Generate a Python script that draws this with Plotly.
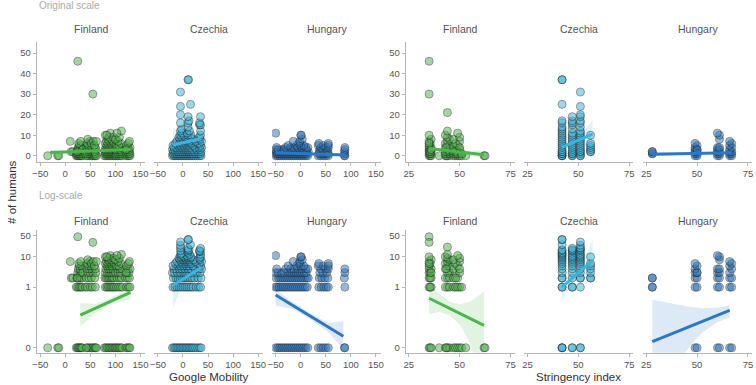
import plotly.graph_objects as go

W, H = 756, 385
FONT = "Liberation Sans, Arial, sans-serif"

countries = ["Finland", "Czechia", "Hungary"]
colors = {"Finland": "#4cb64a", "Czechia": "#38b6de", "Hungary": "#2b78c4"}

mob_ticks = [-50, 0, 50, 100, 150]
str_ticks = [25, 50, 75]
lin_ticks = [0, 10, 20, 30, 40, 50]
log_tickvals = [0.01, 1, 10, 50]
log_ticktext = ["0", "1", "10", "50"]
zero_pos = 0.01  # position where 0 is drawn on the log scale

# ---------------- Finland : Google mobility ----------------
fin_mob_x = [-35, -15, -13, 10, 12, 15,
             25, 22, 24, 26, 28, 30, 32, 34, 22, 25, 28, 31, 34, 23, 27, 30, 33, 25, 29, 32, 26, 30, 28, 33, 27, 31, 24, 35,
             45, 48, 52, 55, 42, 40, 44, 50, 54, 42, 47, 52, 45, 50, 55, 43, 48, 53, 46, 51, 44, 49, 45, 55, 52, 56,
             58, 60, 62, 60, 59, 61, 60, 58, 62,
             78, 81, 84, 87, 90, 93, 96, 99, 80, 83, 86, 89, 92, 95, 98, 79, 82, 85, 88, 91, 94, 97, 80, 84, 88, 92, 96,
             81, 86, 90, 95, 83, 88, 93, 80, 85, 91, 97, 82, 88, 94, 85, 92, 80, 87, 90, 96, 83,
             101, 104, 107, 110, 113, 102, 106, 110, 114, 103, 108, 112, 100, 105, 110, 104, 109, 113, 102, 107, 111, 105,
             100, 108, 112, 103,
             121, 124, 127, 129, 122, 126, 129, 120, 124, 128, 123, 127, 125, 129, 122, 126, 128, 121]
fin_mob_y = [0, 0, 0, 7, 2, 2,
             46, 0, 0, 0, 0, 0, 0, 0, 1, 1, 1, 1, 1, 2, 2, 2, 2, 3, 3, 3, 4, 4, 5, 5, 6, 7, 2, 3,
             0, 0, 0, 0, 0, 1, 1, 1, 1, 2, 2, 2, 3, 3, 3, 4, 4, 4, 5, 5, 6, 7, 8, 30, 6, 7,
             0, 0, 0, 1, 2, 3, 4, 5, 7,
             0, 0, 0, 0, 0, 0, 0, 0, 1, 1, 1, 1, 1, 1, 1, 2, 2, 2, 2, 2, 2, 2, 3, 3, 3, 3, 3,
             4, 4, 4, 4, 5, 5, 5, 6, 6, 6, 6, 7, 7, 7, 8, 8, 10, 9, 11, 9, 10,
             0, 0, 0, 0, 0, 1, 1, 1, 1, 2, 2, 2, 3, 3, 3, 4, 4, 4, 5, 5, 6, 7,
             8, 9, 12, 11,
             0, 0, 0, 0, 1, 1, 1, 2, 2, 2, 3, 3, 4, 4, 5, 6, 7, 3]

# ---------------- Finland : stringency ----------------
fin_str_x = [35, 35, 35, 35.5, 36, 35, 36, 35.5, 35, 36, 35, 35.5, 35, 36, 35, 35.5, 35, 36, 35, 35.5, 36, 35,
             40,
             43, 44, 45, 43.5, 44, 43, 45, 44, 43, 45, 44, 43, 44, 45, 43, 44, 45, 44, 43, 44, 44, 45, 43.5,
             47, 48, 49, 50, 47, 48, 50, 47, 49, 48, 50, 47, 49, 48, 50, 47, 50, 49, 48, 50, 49,
             51, 53, 51,
             62, 62.5]
fin_str_y = [46, 30, 0, 0, 0, 1, 1, 1, 2, 2, 3, 3, 4, 4, 5, 6, 7, 8, 10, 2, 3, 6,
             0,
             0, 0, 0, 0, 1, 1, 1, 2, 2, 3, 3, 4, 5, 5, 6, 7, 8, 9, 10, 12, 21, 2, 4,
             0, 0, 0, 0, 1, 1, 1, 2, 2, 3, 3, 4, 5, 6, 7, 8, 9, 11, 2, 4, 1,
             0, 0, 1,
             0, 0]

# ---------------- Czechia : Google mobility ----------------
cze_mob_x = [-21, -18, -15, -12, -9, -6, -3, 0, 3, 6, 9, 12, 15, 18, 21, 25, 29, 33, 36,
             -20, -16, -12, -8, -4, 0, 4, 8, 12, 16, 20, 26, 31, 35,
             -19, -14, -10, -6, -2, 2, 6, 10, 14, 18, 23, 30, 36,
             -21, -17, -11, -5, 1, 5, 9, 13, 19, 27, 34,
             -18, -13, -7, -2, 4, 10, 15, 24, 32, 37,
             -20, -10, -5, 1, 7, 12, 20, 35,
             -15, -8, -1, 5, 11, 16, 29, 33,
             -12, -4, 3, 8, 13, 25, 37,
             -6, 0, 6, 12, 21, 34,
             -8, -3, 4, 9, 15, 33,
             -5, 1, 10, 16, 35,
             -2, 8, 13, -5, 35,
             -3, 10, 33, 35, -5, 10, 33, 12, 10, 35, -5, -5, 15, -5, 10, 11]
cze_mob_y = [0, 0, 0, 0, 0, 0, 0, 0, 0, 0, 0, 0, 0, 0, 0, 0, 0, 0, 0,
             1, 1, 1, 1, 1, 1, 1, 1, 1, 1, 1, 1, 1, 1,
             2, 2, 2, 2, 2, 2, 2, 2, 2, 2, 2, 2, 2,
             3, 3, 3, 3, 3, 3, 3, 3, 3, 3, 3,
             4, 4, 4, 4, 4, 4, 4, 4, 4, 4,
             5, 5, 5, 5, 5, 5, 5, 5,
             6, 6, 6, 6, 6, 6, 6, 6,
             7, 7, 7, 7, 7, 7, 7,
             8, 8, 8, 8, 8, 8,
             9, 9, 9, 9, 9, 9,
             10, 10, 10, 10, 10,
             11, 11, 12, 12, 12,
             13, 14, 15, 15, 16, 16, 16, 17, 19, 19, 20, 24, 25, 31, 37, 37]

# ---------------- Czechia : stringency ----------------
cze_str_x = [42] * 24 + [47] * 19 + [51] * 22 + [56] * 7
cze_str_y = [0, 0, 0, 1, 1, 2, 2, 3, 4, 5, 6, 7, 8, 9, 10, 11, 12, 13, 14, 16, 17, 25, 37, 37,
             0, 0, 1, 1, 2, 3, 4, 5, 6, 7, 8, 9, 10, 11, 13, 15, 16, 17, 19,
             0, 0, 1, 2, 2, 3, 4, 5, 6, 7, 8, 9, 10, 11, 12, 14, 16, 17, 19, 20, 24, 31,
             2, 2, 3, 4, 5, 6, 10]

# ---------------- Hungary : Google mobility ----------------
hun_mob_x = [-50, -46, -42, -38, -34, -30, -26, -22, -18, -14, -10, -6, -2, 2, 6, 10, 14, 35, 40, 45, 50, 55, 87, 88,
             -50, -47, -43, -39, -35, -31, -27, -23, -19, -15, -11, -7, -3, 1, 5, 9, 13, 36, 41, 46, 51, 55, 88,
             -49, -44, -40, -36, -32, -28, -24, -20, -16, -12, -8, -4, 0, 4, 8, 12, 15, 37, 42, 48, 54, 87,
             -50, -45, -38, -33, -26, -21, -17, -13, -9, -5, -1, 3, 7, 11, 38, 44, 52, 88,
             -48, -30, -20, -14, -6, 2, 10, 14, 40, 50, 55, 88,
             -25, -8, 0, 6, 35, 45, 55,
             -3, 36, 55, -15, -2, 3, 0, 1, -50]
hun_mob_y = [0] * 24 + [1] * 23 + [2] * 22 + [3] * 18 + [4] * 12 + [5] * 7 + \
            [6, 6, 6, 7, 7, 8, 10, 10, 11]

# ---------------- Hungary : stringency ----------------
hun_str_x = [28, 28, 28, 28,
             49, 50, 49, 50, 49, 50, 49, 50, 49, 50, 49, 50,
             60, 61, 60, 61, 60, 61, 60, 61, 60, 61, 61, 61, 60,
             66, 67, 66, 67, 66, 67, 66, 67, 66, 67, 66]
hun_str_y = [1, 1, 2, 2,
             0, 0, 1, 1, 2, 2, 3, 3, 4, 5, 6, 3,
             0, 0, 1, 1, 2, 2, 3, 3, 4, 4, 8, 10, 11,
             0, 0, 1, 1, 2, 2, 3, 4, 5, 6, 7]

# ---------------- fitted lines and confidence bands ----------------
# original scale
fit_lin_fin_mob_x, fit_lin_fin_mob_y = [-30, 130], [1.6, 3.0]
band_lin_fin_mob_x, band_lin_fin_mob_lo, band_lin_fin_mob_hi = [-30, 50, 130], [0.4, 1.8, 2.0], [2.8, 2.6, 4.0]
fit_lin_cze_mob_x, fit_lin_cze_mob_y = [-20, 35], [5.2, 8.3]
band_lin_cze_mob_x, band_lin_cze_mob_lo, band_lin_cze_mob_hi = [-20, 8, 35], [1.0, 5.6, 5.8], [14.0, 7.9, 11.0]
fit_lin_hun_mob_x, fit_lin_hun_mob_y = [-50, 88], [1.5, 0.4]
band_lin_hun_mob_x, band_lin_hun_mob_lo, band_lin_hun_mob_hi = [-50, 20, 88], [0.8, 0.8, -0.1], [2.2, 1.2, 0.9]
fit_lin_fin_str_x, fit_lin_fin_str_y = [35, 62], [3.5, 0.5]
band_lin_fin_str_x, band_lin_fin_str_lo, band_lin_fin_str_hi = [35, 45, 62], [2.8, 1.9, -1.5], [4.2, 2.7, 2.5]
fit_lin_cze_str_x, fit_lin_cze_str_y = [42, 57], [4.2, 10.5]
band_lin_cze_str_x, band_lin_cze_str_lo, band_lin_cze_str_hi = [42, 48, 57], [2.5, 5.5, 4.0], [6.0, 8.0, 17.0]
fit_lin_hun_str_x, fit_lin_hun_str_y = [28, 67], [0.7, 1.5]
band_lin_hun_str_x, band_lin_hun_str_lo, band_lin_hun_str_hi = [28, 55, 67], [-0.3, 0.9, 1.0], [1.7, 1.5, 2.0]
# log scale
fit_log_fin_mob_x, fit_log_fin_mob_y = [30, 130], [0.12, 0.67]
band_log_fin_mob_x = [30, 60, 90, 130]
band_log_fin_mob_lo = [0.05, 0.14, 0.26, 0.40]
band_log_fin_mob_hi = [0.30, 0.28, 0.44, 0.95]
fit_log_cze_mob_x, fit_log_cze_mob_y = [-20, 36], [1.13, 4.4]
band_log_cze_mob_x = [-20, -5, 10, 25, 36]
band_log_cze_mob_lo = [0.2, 0.85, 1.9, 1.9, 0.65]
band_log_cze_mob_hi = [6.0, 3.2, 2.9, 6.0, 30.0]
fit_log_hun_mob_x, fit_log_hun_mob_y = [-50, 85], [0.55, 0.024]
band_log_hun_mob_x = [-50, -15, 20, 55, 85]
band_log_hun_mob_lo = [0.25, 0.19, 0.085, 0.033, 0.009]
band_log_hun_mob_hi = [0.85, 0.31, 0.135, 0.065, 0.075]
fit_log_fin_str_x, fit_log_fin_str_y = [35, 62], [0.43, 0.055]
band_log_fin_str_x = [35, 40, 45, 50, 55, 62]
band_log_fin_str_lo = [0.13, 0.15, 0.12, 0.06, 0.015, 0.0005]
band_log_fin_str_hi = [1.3, 0.6, 0.33, 0.27, 0.33, 0.7]
fit_log_cze_str_x, fit_log_cze_str_y = [42, 57], [1.0, 7.6]
band_log_cze_str_x = [42, 45, 48, 52, 57]
band_log_cze_str_lo = [0.33, 0.9, 1.7, 2.6, 2.0]
band_log_cze_str_hi = [3.0, 2.4, 3.0, 6.0, 38.0]
fit_log_hun_str_x, fit_log_hun_str_y = [28, 66], [0.016, 0.17]
band_log_hun_str_x = [28, 36, 44, 52, 60, 66]
band_log_hun_str_lo = [0.00005, 0.001, 0.007, 0.03, 0.07, 0.1]
band_log_hun_str_hi = [0.38, 0.3, 0.24, 0.2, 0.21, 0.25]

data = {
    ("Finland", "mob"): (fin_mob_x, fin_mob_y),
    ("Czechia", "mob"): (cze_mob_x, cze_mob_y),
    ("Hungary", "mob"): (hun_mob_x, hun_mob_y),
    ("Finland", "str"): (fin_str_x, fin_str_y),
    ("Czechia", "str"): (cze_str_x, cze_str_y),
    ("Hungary", "str"): (hun_str_x, hun_str_y),
}
fits = {
    ("lin", "Finland", "mob"): (fit_lin_fin_mob_x, fit_lin_fin_mob_y, band_lin_fin_mob_x, band_lin_fin_mob_lo, band_lin_fin_mob_hi),
    ("lin", "Czechia", "mob"): (fit_lin_cze_mob_x, fit_lin_cze_mob_y, band_lin_cze_mob_x, band_lin_cze_mob_lo, band_lin_cze_mob_hi),
    ("lin", "Hungary", "mob"): (fit_lin_hun_mob_x, fit_lin_hun_mob_y, band_lin_hun_mob_x, band_lin_hun_mob_lo, band_lin_hun_mob_hi),
    ("lin", "Finland", "str"): (fit_lin_fin_str_x, fit_lin_fin_str_y, band_lin_fin_str_x, band_lin_fin_str_lo, band_lin_fin_str_hi),
    ("lin", "Czechia", "str"): (fit_lin_cze_str_x, fit_lin_cze_str_y, band_lin_cze_str_x, band_lin_cze_str_lo, band_lin_cze_str_hi),
    ("lin", "Hungary", "str"): (fit_lin_hun_str_x, fit_lin_hun_str_y, band_lin_hun_str_x, band_lin_hun_str_lo, band_lin_hun_str_hi),
    ("log", "Finland", "mob"): (fit_log_fin_mob_x, fit_log_fin_mob_y, band_log_fin_mob_x, band_log_fin_mob_lo, band_log_fin_mob_hi),
    ("log", "Czechia", "mob"): (fit_log_cze_mob_x, fit_log_cze_mob_y, band_log_cze_mob_x, band_log_cze_mob_lo, band_log_cze_mob_hi),
    ("log", "Hungary", "mob"): (fit_log_hun_mob_x, fit_log_hun_mob_y, band_log_hun_mob_x, band_log_hun_mob_lo, band_log_hun_mob_hi),
    ("log", "Finland", "str"): (fit_log_fin_str_x, fit_log_fin_str_y, band_log_fin_str_x, band_log_fin_str_lo, band_log_fin_str_hi),
    ("log", "Czechia", "str"): (fit_log_cze_str_x, fit_log_cze_str_y, band_log_cze_str_x, band_log_cze_str_lo, band_log_cze_str_hi),
    ("log", "Hungary", "str"): (fit_log_hun_str_x, fit_log_hun_str_y, band_log_hun_str_x, band_log_hun_str_lo, band_log_hun_str_hi),
}

# ---------------- layout geometry (pixels) ----------------
col_px = {"mob": [(32, 142), (151, 261), (270, 380)],
          "str": [(405, 515), (525, 635), (645, 755)]}
row_px = {"lin": (41.7, 161.7), "log": (230, 352.7)}
x_range = {"mob": [-57, 160], "str": [23.5, 77]}
y_range = {"lin": [-2.9, 55.5], "log": [-2.163, 1.885]}


def rgba(hexc, a):
    h = hexc.lstrip("#")
    r, g, b = int(h[0:2], 16), int(h[2:4], 16), int(h[4:6], 16)
    return f"rgba({r},{g},{b},{a})"


fig = go.Figure()
layout = {}
AX_COL = "#b5b5b5"
TICK_FONT = dict(family=FONT, size=9.5, color="#555555")

idx = 0
for row in ["lin", "log"]:
    for var in ["mob", "str"]:
        for ci, country in enumerate(countries):
            idx += 1
            xa = "x" if idx == 1 else f"x{idx}"
            ya = "y" if idx == 1 else f"y{idx}"
            xk = "xaxis" if idx == 1 else f"xaxis{idx}"
            yk = "yaxis" if idx == 1 else f"yaxis{idx}"
            x0, x1 = col_px[var][ci]
            t0, t1 = row_px[row]
            col = colors[country]
            xs, ys = data[(country, var)]
            if row == "log":
                ys_plot = [v if v > 0 else zero_pos for v in ys]
            else:
                ys_plot = ys
            fx, fy, bx, blo, bhi = fits[(row, country, var)]
            # band
            fig.add_trace(go.Scatter(x=bx + bx[::-1], y=bhi + blo[::-1], xaxis=xa, yaxis=ya,
                                     mode="lines", fill="toself", fillcolor=rgba(col, 0.16),
                                     line=dict(width=0), hoverinfo="skip"))
            # points
            fig.add_trace(go.Scatter(x=xs, y=ys_plot, xaxis=xa, yaxis=ya, mode="markers",
                                     marker=dict(size=8, color=col, opacity=0.52,
                                                 line=dict(color="#2a2a2a", width=1))))
            # fitted line
            fig.add_trace(go.Scatter(x=fx, y=fy, xaxis=xa, yaxis=ya, mode="lines",
                                     line=dict(color=col, width=3)))

            layout[xk] = dict(domain=[x0 / W, x1 / W], range=x_range[var], anchor=ya,
                              tickvals=mob_ticks if var == "mob" else str_ticks,
                              showline=True, linecolor=AX_COL, linewidth=1,
                              ticks="outside", ticklen=3, tickcolor=AX_COL,
                              showgrid=False, zeroline=False, tickfont=TICK_FONT)
            ydict = dict(domain=[1 - t1 / H, 1 - t0 / H], anchor=xa,
                         showgrid=False, zeroline=False)
            if row == "log":
                ydict.update(type="log", range=y_range[row], tickvals=log_tickvals, ticktext=log_ticktext)
            else:
                ydict.update(range=y_range[row], tickvals=lin_ticks)
            if ci == 0:
                ydict.update(showline=True, linecolor=AX_COL, linewidth=1, ticks="outside",
                             ticklen=3, tickcolor=AX_COL, tickfont=TICK_FONT)
            else:
                ydict.update(showline=False, showticklabels=False, ticks="")
            layout[yk] = ydict

annotations = []
strip_y = {"lin": 29, "log": 221}
for row in ["lin", "log"]:
    for var in ["mob", "str"]:
        for ci, country in enumerate(countries):
            x0, x1 = col_px[var][ci]
            annotations.append(dict(text=country, x=(x0 + x1) / 2 / W, y=1 - strip_y[row] / H,
                                    xref="paper", yref="paper", showarrow=False,
                                    xanchor="center", yanchor="middle",
                                    font=dict(family=FONT, size=10.5, color="#555555")))
annotations.append(dict(text="Original scale", x=32 / W, y=1 - 5 / H, xref="paper", yref="paper",
                        showarrow=False, xanchor="left", yanchor="middle",
                        font=dict(family=FONT, size=10, color="#aaaaaa")))
annotations.append(dict(text="Log-scale", x=32 / W, y=1 - 196 / H, xref="paper", yref="paper",
                        showarrow=False, xanchor="left", yanchor="middle",
                        font=dict(family=FONT, size=10, color="#aaaaaa")))
annotations.append(dict(text="Google Mobility", x=206 / W, y=1 - 377 / H, xref="paper", yref="paper",
                        showarrow=False, xanchor="center", yanchor="middle",
                        font=dict(family=FONT, size=11.5, color="#333333")))
annotations.append(dict(text="Stringency index", x=580 / W, y=1 - 377 / H, xref="paper", yref="paper",
                        showarrow=False, xanchor="center", yanchor="middle",
                        font=dict(family=FONT, size=11.5, color="#333333")))
annotations.append(dict(text="# of humans", x=7 / W, y=1 - 192 / H, xref="paper", yref="paper",
                        showarrow=False, xanchor="center", yanchor="middle", textangle=-90,
                        font=dict(family=FONT, size=11.5, color="#333333")))

fig.update_layout(width=W, height=H, margin=dict(l=0, r=0, t=0, b=0),
                  paper_bgcolor="white", plot_bgcolor="white", showlegend=False,
                  annotations=annotations, **layout)

fig.write_html("out.html", config={"displayModeBar": False},
               post_script="document.body.style.margin='0px';document.body.style.overflow='hidden';")
